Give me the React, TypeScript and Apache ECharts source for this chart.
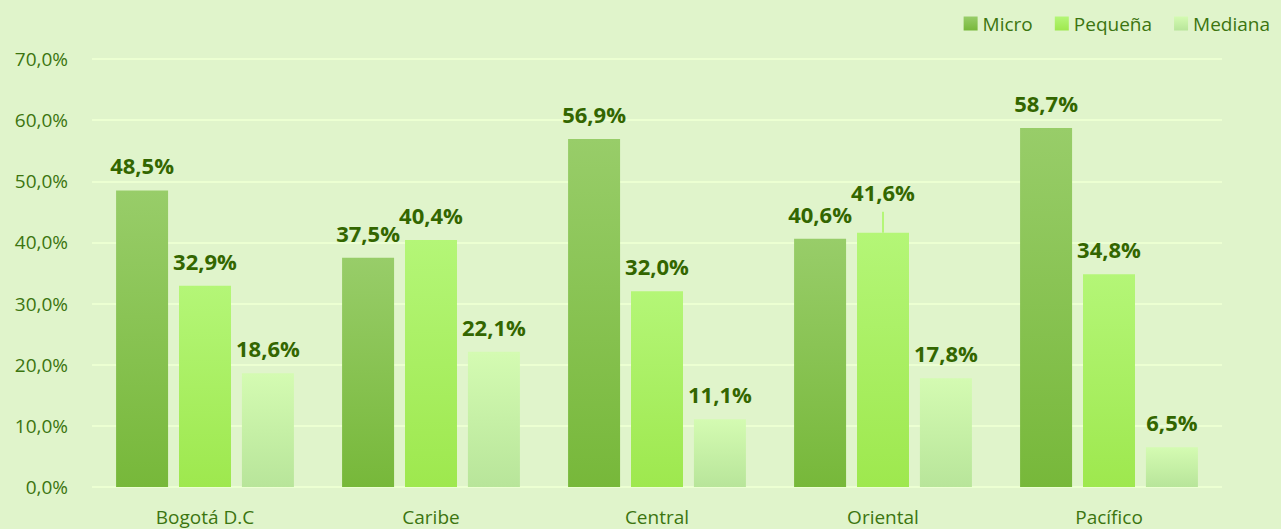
import React, { useEffect, useRef } from "react";
import * as echarts from "echarts";

const categories = ["Bogotá D.C", "Caribe", "Central", "Oriental", "Pacífico"];
const micro = [48.5, 37.5, 56.9, 40.6, 58.7];
const pequena = [32.9, 40.4, 32.0, 41.6, 34.8];
const mediana = [18.6, 22.1, 11.1, 17.8, 6.5];
const seriesNames = ["Micro", "Pequeña", "Mediana"];
// leader line for the displaced "Oriental / Pequeña" label
const leaderCategory = "Oriental";
const leaderFrom = 41.6;
const leaderTo = 45.0;

const fmt = (v: number) => v.toFixed(1).replace(".", ",") + "%";
const textColor = "#3c7510";
const labelColor = "#336600";
const font = "'Open Sans', 'Noto Sans', sans-serif";

const grad = (top: string, bottom: string) =>
  new echarts.graphic.LinearGradient(0, 0, 0, 1, [
    { offset: 0, color: top },
    { offset: 1, color: bottom },
  ]);

export default function App() {
  const ref = useRef<HTMLDivElement>(null);
  useEffect(() => {
    if (!ref.current) return;
    const chart = echarts.init(ref.current, null, { renderer: "svg" });
    const mk = (name: string, data: any[], top: string, bottom: string, extra: any = {}) => ({
      name,
      type: "bar",
      data,
      barWidth: 52,
      barGap: "21%",
      itemStyle: { color: grad(top, bottom) },
      label: {
        show: true,
        position: "top",
        distance: 14,
        formatter: (p: any) => fmt(p.value),
        color: labelColor,
        fontWeight: "bold",
        fontSize: 22,
        fontFamily: font,
      },
      emphasis: { disabled: true },
      ...extra,
    });
    const pequenaData = pequena.map((v, i) =>
      categories[i] === leaderCategory ? { value: v, label: { distance: 30 } } : v
    );
    chart.setOption({
      animation: false,
      backgroundColor: "#e0f4cb",
      textStyle: { fontFamily: font },
      legend: {
        right: 6,
        top: 9,
        itemWidth: 14,
        itemHeight: 14,
        itemGap: 22,
        icon: "rect",
        textStyle: { color: textColor, fontSize: 19, fontFamily: font },
        data: seriesNames,
      },
      grid: { left: 92, right: 59, top: 59, bottom: 42, containLabel: false },
      xAxis: {
        type: "category",
        data: categories,
        axisLine: { show: false },
        axisTick: { show: false },
        axisLabel: { color: textColor, fontSize: 19, margin: 20, fontFamily: font },
      },
      yAxis: {
        type: "value",
        min: 0,
        max: 70,
        interval: 10,
        axisLabel: {
          color: textColor,
          fontSize: 19,
          margin: 24,
          fontFamily: font,
          formatter: (v: number) => v.toFixed(1).replace(".", ",") + "%",
        },
        splitLine: { lineStyle: { color: "#ecffd2", width: 2 } },
      },
      series: [
        mk(seriesNames[0], micro, "#98cd69", "#77b83a"),
        mk(seriesNames[1], pequenaData, "#b4f677", "#9ee84e", {
          markLine: {
            silent: true,
            symbol: "none",
            label: { show: false },
            lineStyle: { color: "#b4f677", width: 2, type: "solid" },
            data: [
              [
                { coord: [leaderCategory, leaderFrom] },
                { coord: [leaderCategory, leaderTo] },
              ],
            ],
          },
        }),
        mk(seriesNames[2], mediana, "#d4fbb2", "#b8e59a"),
      ],
    });
    return () => chart.dispose();
  }, []);
  return <div ref={ref} style={{ width: 1281, height: 529, position: "absolute", left: 0, top: 0 }} />;
}
